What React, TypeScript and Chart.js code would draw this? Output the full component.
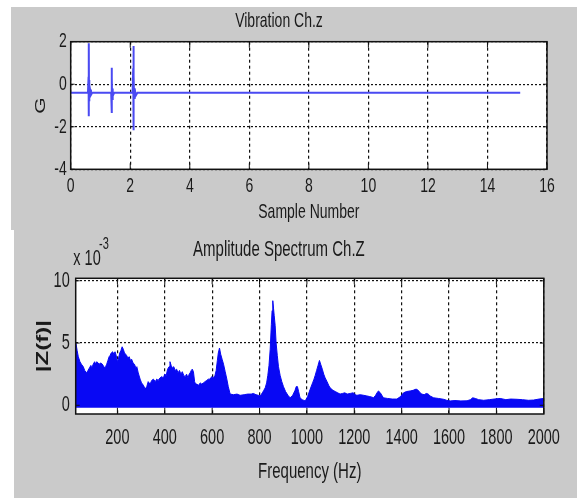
import React, { useEffect, useRef } from "react";
import { Chart, registerables } from "chart.js";

Chart.register(...registerables);

// ---- Top plot: Vibration Ch.z ----
const sampleNumber = [
  0, 0.58, 0.6, 0.605, 0.61, 0.615, 0.62, 0.63, 0.65, 0.68, 0.72,
  1.36, 1.375, 1.38, 1.385, 1.39, 1.4, 1.42, 1.46,
  2.08, 2.1, 2.105, 2.11, 2.115, 2.12, 2.13, 2.15, 2.18, 2.24, 15.1,
];
const vibrationG = [
  -0.4, -0.4, 0.35, -1.5, 1.93, -0.75, 0.2, -0.6, -0.25, -0.5, -0.4,
  -0.4, 0.78, -1.35, 0.3, -0.7, -0.2, -0.55, -0.4,
  -0.4, 0.75, -2.16, 1.8, -1.0, 0.4, -0.65, -0.2, -0.55, -0.4, -0.4,
];
const sampleTicks = [0, 2, 4, 6, 8, 10, 12, 14, 16];
const gTicks = [-4, -2, 0, 2];

// ---- Bottom plot: Amplitude Spectrum Ch.Z (x 10^-3) ----
const frequencyHz = [
  25, 30, 35, 42, 48, 56, 62, 70, 76, 82,
  88, 92, 98, 104, 108, 113, 118, 124, 128, 134,
  140, 146, 150, 155, 160, 165, 169, 174, 180, 185,
  190, 195, 200, 204, 210, 215, 220, 225, 230, 235,
  239, 244, 250, 255, 260, 266, 272, 278, 282, 288,
  296, 302, 310, 317, 324, 330, 338, 345, 352, 360,
  366, 372, 380, 387, 394, 400, 406, 412, 418, 422,
  427, 432, 438, 444, 450, 456, 462, 468, 474, 480,
  486, 492, 498, 503, 507, 512, 516, 521, 526, 530,
  535, 542, 550, 556, 563, 570, 577, 584, 591, 598,
  605, 612, 617, 622, 626, 631, 636, 642, 648, 655,
  662, 668, 676, 690, 705, 718, 735, 750, 765, 774,
  785, 795, 803, 812, 818, 824, 830, 835, 840, 845,
  850, 853, 856, 859, 862, 866, 870, 875, 880, 887,
  894, 901, 910, 920, 929, 940, 950, 955, 960, 965,
  971, 980, 993, 1003, 1014, 1024, 1030, 1035, 1041, 1047,
  1053, 1058, 1065, 1071, 1077, 1085, 1092, 1098, 1110, 1120,
  1130, 1140, 1150, 1160, 1170, 1183, 1195, 1205, 1211, 1225,
  1240, 1253, 1265, 1275, 1281, 1290, 1296, 1302, 1310, 1318,
  1323, 1340, 1360, 1380, 1395, 1408, 1420, 1436, 1448, 1461,
  1470, 1478, 1485, 1495, 1504, 1512, 1520, 1535, 1555, 1577,
  1590, 1605, 1625, 1650, 1676, 1690, 1700, 1711, 1725, 1746,
  1770, 1790, 1816, 1840, 1860, 1887, 1910, 1935, 1957, 1980,
  2000,
];
const amplitudeZ = [
  5.0, 4.4, 3.9, 3.5, 3.3, 3.1, 2.8, 2.6, 2.8, 3.0,
  3.2, 3.0, 3.3, 3.5, 3.3, 3.5, 3.4, 3.3, 3.4, 3.35,
  3.2, 3.0, 3.1, 3.3, 3.6, 3.9, 4.0, 4.2, 4.3, 4.1,
  4.3, 4.0, 3.5, 3.7, 4.2, 4.4, 4.7, 4.5, 4.2, 4.1,
  4.0, 3.8, 3.9, 3.6, 3.7, 3.4, 3.3, 3.0, 3.1, 2.6,
  2.1, 1.8, 1.6, 1.3, 1.5, 1.9, 1.7, 2.0, 2.1, 1.9,
  2.1, 2.0, 2.2, 2.3, 2.2, 2.5, 2.4, 2.9, 3.1, 3.5,
  3.2, 3.0, 3.1, 2.8, 2.9, 2.6, 2.8, 2.5, 2.7, 2.4,
  2.3, 2.5, 2.2, 2.5, 2.6, 2.8, 2.9, 2.7, 1.9, 1.7,
  1.7, 1.6, 1.8, 1.7, 1.8, 1.9, 2.0, 2.1, 2.1, 2.3,
  2.2, 2.4, 2.8, 3.6, 4.2, 4.6, 4.1, 3.7, 3.3, 2.7,
  2.1, 1.5, 0.9, 0.85, 0.9, 0.8, 0.85, 0.9, 0.9, 0.95,
  0.85, 0.8, 0.75, 1.0, 1.2, 1.4, 1.8, 2.4, 3.2, 4.5,
  6.5, 7.6, 8.4, 7.8, 7.2, 6.4, 5.0, 4.0, 3.1, 2.4,
  1.9, 1.5, 1.1, 0.8, 0.6, 0.8, 1.2, 1.5, 1.5, 1.1,
  0.6, 0.45, 0.35, 0.7, 1.3, 1.8, 2.1, 2.4, 2.8, 3.2,
  3.6, 3.3, 2.9, 2.5, 2.2, 1.9, 1.6, 1.4, 1.2, 1.1,
  1.0, 0.9, 0.95, 1.0, 0.9, 0.95, 1.0, 0.85, 0.8, 0.85,
  0.8, 0.75, 0.7, 0.65, 0.6, 0.8, 1.0, 1.15, 1.0, 0.75,
  0.6, 0.55, 0.5, 0.5, 0.7, 1.0, 1.1, 1.15, 1.2, 1.3,
  1.2, 1.0, 0.9, 0.85, 0.95, 0.9, 0.75, 0.6, 0.55, 0.48,
  0.4, 0.35, 0.38, 0.35, 0.36, 0.45, 0.6, 0.55, 0.45, 0.4,
  0.45, 0.5, 0.55, 0.45, 0.5, 0.48, 0.45, 0.4, 0.42, 0.5,
  0.55,
];
const spectrumFloor = -0.2;
const freqTicks = [200, 400, 600, 800, 1000, 1200, 1400, 1600, 1800, 2000];
const ampTicks = [0, 5, 10];

const FONT = '"Liberation Sans Narrow", "Arial Narrow", "Liberation Sans", Arial, sans-serif';
const INK = "#1a1a1a";
const GRID = "#111111";
const PANEL = "#cacaca";
const STRETCH = 1.5;

const font = (size: number, weight = "normal") => ({ family: FONT, size, weight, lineHeight: 1.2 });

const matlabAxes = {
  id: "matlabAxes",
  beforeDraw(chart: any) {
    const ctx = chart.ctx as any;
    const orig = CanvasRenderingContext2D.prototype.fillText;
    ctx.fillText = function (text: string, x: number, y: number, maxWidth?: number) {
      const m = this.getTransform();
      const px = m.a * x + m.c * y + m.e;
      const py = m.b * x + m.d * y + m.f;
      this.save();
      this.setTransform(new DOMMatrix().translate(px, py).scale(1, STRETCH).translate(-px, -py).multiply(m));
      if (maxWidth === undefined) orig.call(this, text, x, y);
      else orig.call(this, text, x, y, maxWidth);
      this.restore();
    };
    const a = chart.chartArea;
    ctx.save();
    ctx.fillStyle = "#ffffff";
    ctx.fillRect(a.left, a.top, a.right - a.left, a.bottom - a.top);
    ctx.restore();
  },
  afterDraw(chart: any, _args: any, opts: any) {
    const ctx = chart.ctx as any;
    const a = chart.chartArea;
    const xs = chart.scales.x;
    const ys = chart.scales.y;
    ctx.save();
    ctx.strokeStyle = "#111";
    ctx.lineWidth = 1;
    ctx.setLineDash([]);
    ctx.beginPath();
    xs.ticks.forEach((t: any) => {
      const p = xs.getPixelForValue(t.value);
      ctx.moveTo(p, a.bottom);
      ctx.lineTo(p, a.bottom - 6);
      ctx.moveTo(p, a.top);
      ctx.lineTo(p, a.top + 6);
    });
    ys.ticks.forEach((t: any) => {
      const p = ys.getPixelForValue(t.value);
      ctx.moveTo(a.left, p);
      ctx.lineTo(a.left + 4, p);
      ctx.moveTo(a.right, p);
      ctx.lineTo(a.right - 4, p);
    });
    ctx.stroke();
    ctx.lineWidth = 1.5;
    ctx.strokeRect(a.left, a.top, a.right - a.left, a.bottom - a.top);
    (opts.texts || []).forEach((t: any) => {
      ctx.font = `${t.size}px ${FONT}`;
      ctx.fillStyle = INK;
      ctx.textAlign = "center";
      ctx.textBaseline = "middle";
      ctx.fillText(t.text, t.x, t.y);
    });
    ctx.restore();
    delete ctx.fillText;
  },
};

function makeScale(opts: {
  min: number; max: number; ticks: number[]; size: number; isX: boolean;
  fontSize: number; pad: number; title: string; titleSize: number; titlePad: number;
  dash: number[]; titleWeight?: string;
}) {
  return {
    type: "linear",
    min: opts.min,
    max: opts.max,
    afterBuildTicks: (s: any) => {
      s.ticks = opts.ticks.map((v) => ({ value: v }));
    },
    afterFit: (s: any) => {
      if (opts.isX) s.height = opts.size;
      else s.width = opts.size;
    },
    grid: { color: GRID, lineWidth: 1.2, drawTicks: false, borderDash: opts.dash },
    border: { display: false, dash: opts.dash },
    ticks: {
      color: INK,
      font: font(opts.fontSize),
      padding: opts.pad,
      maxRotation: 0,
      autoSkip: false,
      callback: (v: any) => String(v),
    },
    title: {
      display: true,
      text: opts.title,
      color: INK,
      font: font(opts.titleSize, opts.titleWeight || "normal"),
      padding: opts.isX ? { top: 0, bottom: opts.titlePad } : { top: opts.titlePad, bottom: 0 },
    },
  };
}

export default function App() {
  const topRef = useRef<HTMLCanvasElement>(null);
  const botRef = useRef<HTMLCanvasElement>(null);

  useEffect(() => {
    const top = new Chart(topRef.current as HTMLCanvasElement, {
      type: "line",
      data: {
        datasets: [
          {
            data: sampleNumber.map((x, i) => ({ x, y: vibrationG[i] })),
            borderColor: "#4a4af2",
            borderWidth: 2,
            pointRadius: 0,
            fill: false,
            tension: 0,
          },
        ],
      },
      plugins: [matlabAxes],
      options: {
        animation: false,
        responsive: false,
        events: [],
        layout: { padding: { top: 0, right: 30, bottom: 0, left: 0 } },
        plugins: {
          legend: { display: false },
          tooltip: { enabled: false },
          title: {
            display: true,
            text: "Vibration Ch.z",
            color: INK,
            font: font(14),
            padding: { top: 5.6, bottom: 12.3 },
          },
          matlabAxes: { texts: [] },
        } as any,
        scales: {
          x: makeScale({ min: 0, max: 16, ticks: sampleTicks, size: 60.7, isX: true, fontSize: 14, pad: 9, title: "Sample Number", titleSize: 14, titlePad: 9.6, dash: [3, 3] }),
          y: makeScale({ min: -4, max: 2, ticks: gTicks, size: 59.7, isX: false, fontSize: 14, pad: 4, title: "G", titleSize: 14, titlePad: 22, dash: [2, 2] }),
        } as any,
      },
    } as any);

    const bot = new Chart(botRef.current as HTMLCanvasElement, {
      type: "line",
      data: {
        datasets: [
          {
            data: frequencyHz.map((x, i) => ({ x, y: amplitudeZ[i] })),
            borderColor: "#0808f4",
            backgroundColor: "#0808f4",
            borderWidth: 1,
            pointRadius: 0,
            fill: { value: spectrumFloor },
            tension: 0,
          },
        ],
      },
      plugins: [matlabAxes],
      options: {
        animation: false,
        responsive: false,
        events: [],
        layout: { padding: { top: 0, right: 33.2, bottom: 0, left: 0 } },
        plugins: {
          legend: { display: false },
          tooltip: { enabled: false },
          title: {
            display: true,
            text: "Amplitude Spectrum Ch.Z",
            color: INK,
            font: font(15),
            padding: { top: 11, bottom: 19.3 },
          },
          matlabAxes: {
            texts: [
              { text: "x 10", x: 73, y: 29, size: 14.5 },
              { text: "-3", x: 90, y: 14, size: 11 },
            ],
          },
        } as any,
        scales: {
          x: makeScale({ min: 24, max: 2000, ticks: freqTicks, size: 84, isX: true, fontSize: 14.5, pad: 15.3, title: "Frequency (Hz)", titleSize: 15, titlePad: 17.3, dash: [3, 3] }),
          y: makeScale({ min: -0.7, max: 10.2, ticks: ampTicks, size: 61.7, isX: false, fontSize: 14.5, pad: 6, title: "|Z(f)|", titleSize: 16, titlePad: 19.5, dash: [2, 2], titleWeight: "bold" }),
        } as any,
      },
    } as any);

    return () => {
      top.destroy();
      bot.destroy();
    };
  }, []);

  return (
    <div style={{ position: "absolute", left: 0, top: 0, width: 577, height: 498, background: "#ffffff", overflow: "hidden" }}>
      <div style={{ position: "absolute", left: 11, top: 7, width: 566, height: 223, background: PANEL }}>
        <canvas ref={topRef} width={566} height={223} style={{ display: "block" }} />
      </div>
      <div style={{ position: "absolute", left: 14, top: 230, width: 563, height: 268, background: PANEL }}>
        <canvas ref={botRef} width={563} height={268} style={{ display: "block" }} />
      </div>
    </div>
  );
}
